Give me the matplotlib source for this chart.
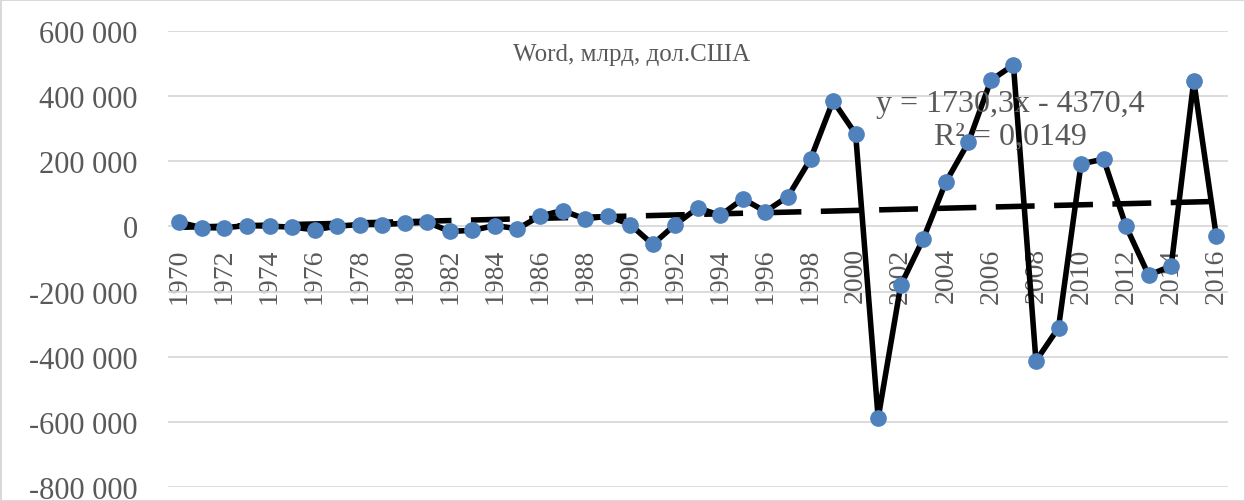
import numpy as np
import matplotlib.pyplot as plt

years = list(range(1970, 2017))
# значения, млрд дол. США
values = [13000, -4000, -4000, 3000, 1000, -2000, -10000, 1000, 6000, 6000,
          10000, 13000, -15000, -12000, 3000, -7000, 32000, 49000, 23000, 32000,
          6000, -55000, 6000, 57000, 34000, 85000, 46000, 92000, 207000, 386000,
          284000, -588000, -181000, -38000, 136000, 258000, 449000, 496000, -413000, -311000,
          192000, 207000, 0, -150000, -121000, 447000, -30000]
trend_slope = 1730.3
trend_intercept = -4370.4
title = 'Word, млрд, дол.США'
eq_text = 'y = 1730,3x - 4370,4\nR² = 0,0149'

plt.rcParams['font.family'] = ['Liberation Serif', 'DejaVu Serif']
grey = '#595959'

fig = plt.figure(figsize=(12.45, 5.02), dpi=100)
fig.patch.set_edgecolor('#D9D9D9')
fig.patch.set_linewidth(2)
ax = fig.add_axes([0.135, 0.028, 0.851, 0.908])
ax.spines['bottom'].set_position(('data', 0))

x = np.arange(1, len(years) + 1)
ax.plot(x, values, color='black', lw=4, marker='o', ms=11,
        mfc='#4F81BD', mec='#4F81BD', zorder=3)
trend = trend_slope * x + trend_intercept
ax.plot(x, trend, color='black', lw=4, dashes=(7, 3.5), zorder=2)

ax.set_xlim(0.5, len(years) + 0.5)
ax.set_ylim(-800000, 600000)
yt = np.arange(-800000, 600001, 200000)
ax.set_yticks(yt)
ax.set_yticklabels([f'{v:,}'.replace(',', ' ') for v in yt])
ax.grid(axis='y', color='#D9D9D9', lw=1.3)
ax.set_axisbelow(True)

ax.set_xticks(x[::2])
ax.set_xticklabels([str(y) for y in years[::2]])
for s in ax.spines.values():
    s.set_visible(False)
ax.tick_params(axis='both', length=0, labelcolor=grey)
ax.tick_params(axis='y', pad=22, labelsize=22)
ax.tick_params(axis='x', pad=15, labelrotation=90, labelsize=20)

ax.text(0.437, 0.95, title, transform=ax.transAxes, ha='center', va='center',
        fontsize=18, color=grey)
ax.text(0.795, 0.805, eq_text, transform=ax.transAxes, ha='center', va='center',
        fontsize=23, color=grey, linespacing=1.2)

fig.savefig('out.png', dpi=100)
